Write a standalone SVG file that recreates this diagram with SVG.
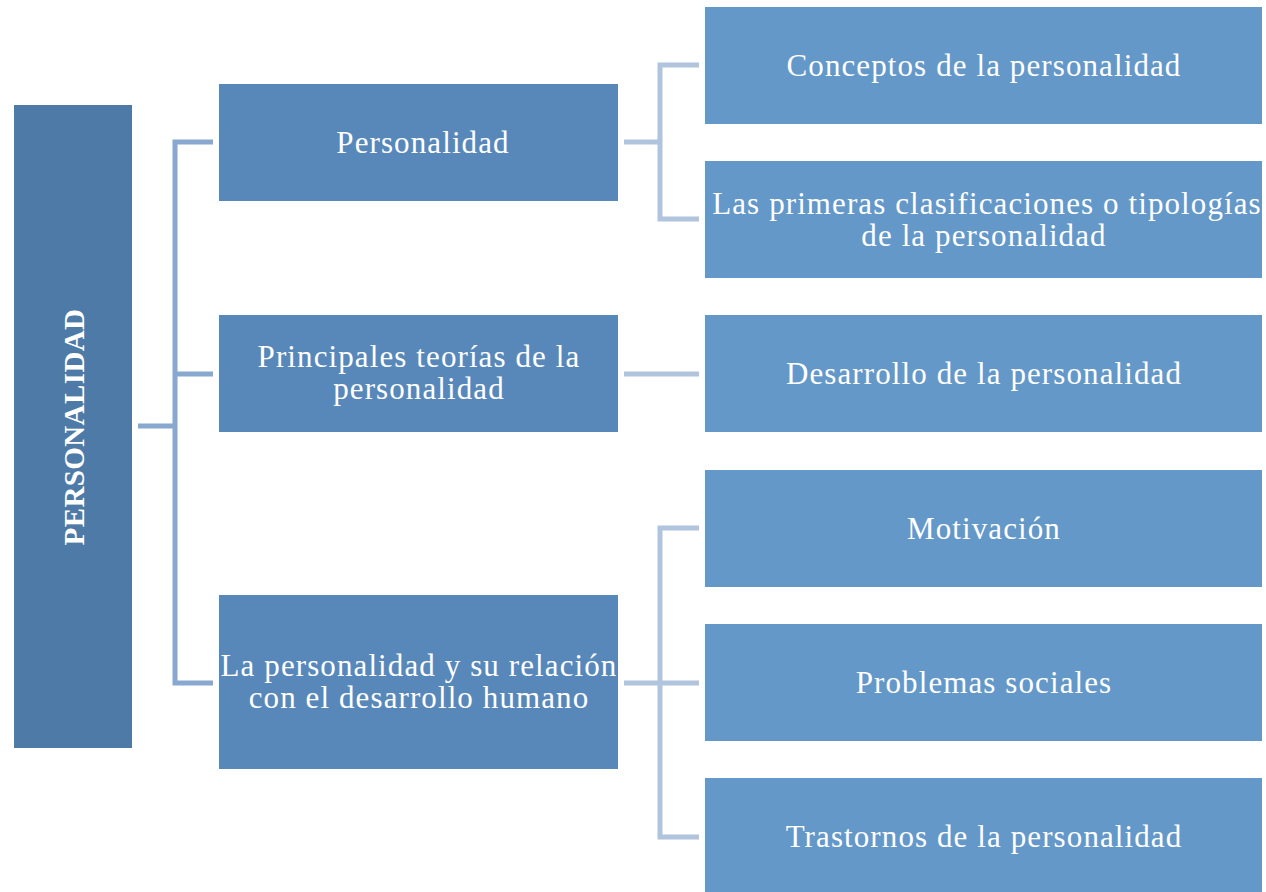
<svg xmlns="http://www.w3.org/2000/svg" width="1266" height="892" viewBox="0 0 1266 892">
<style>
.root{fill:#4e7aa7}
.l1{fill:#5888ba}
.l2{fill:#6498c9}
.t{font-family:"Liberation Serif","DejaVu Serif",serif;font-size:31px;fill:#ffffff;text-anchor:middle;letter-spacing:1.1px}
.tr{font-family:"Liberation Serif","DejaVu Serif",serif;font-size:29px;font-weight:bold;fill:#ffffff;text-anchor:middle;letter-spacing:0.4px}
.c1{fill:none;stroke:#88a8d0;stroke-width:5}
.c2{fill:none;stroke:#b0c4de;stroke-width:5}
</style>
<rect width="1266" height="892" fill="#ffffff"/>
<g id="connectors">
<path class="c1" d="M138 426H175"/>
<path class="c1" d="M213 142H175V683H213"/>
<path class="c1" d="M175 374H213"/>
<path class="c2" d="M624 142H660"/>
<path class="c2" d="M699 65H660V219H699"/>
<path class="c2" d="M624 374H699"/>
<path class="c2" d="M624 683H699"/>
<path class="c2" d="M699 528H660V837H699"/>
</g>
<g id="root">
<rect class="root" x="14" y="105" width="118" height="643"/>
<text class="tr" transform="translate(84,427) rotate(-90)">PERSONALIDAD</text>
</g>
<g id="n1">
<rect class="l1" x="219" y="84" width="399" height="117"/>
<text class="t" x="423" y="153">Personalidad</text>
</g>
<g id="n2">
<rect class="l1" x="219" y="315" width="399" height="117"/>
<text class="t" x="419" y="367">Principales teorías de la</text>
<text class="t" x="419" y="399">personalidad</text>
</g>
<g id="n3">
<rect class="l1" x="219" y="595" width="399" height="174"/>
<text class="t" x="419" y="676">La personalidad y su relación</text>
<text class="t" x="419" y="708">con el desarrollo humano</text>
</g>
<g id="n4">
<rect class="l2" x="705" y="7" width="557" height="117"/>
<text class="t" x="984" y="76">Conceptos de la personalidad</text>
</g>
<g id="n5">
<rect class="l2" x="705" y="161" width="557" height="117"/>
<text class="t" x="987" y="214">Las primeras clasificaciones o tipologías</text>
<text class="t" x="984" y="246">de la personalidad</text>
</g>
<g id="n6">
<rect class="l2" x="705" y="315" width="557" height="117"/>
<text class="t" x="984" y="384">Desarrollo de la personalidad</text>
</g>
<g id="n7">
<rect class="l2" x="705" y="470" width="557" height="117"/>
<text class="t" x="984" y="539">Motivación</text>
</g>
<g id="n8">
<rect class="l2" x="705" y="624" width="557" height="117"/>
<text class="t" x="984" y="693">Problemas sociales</text>
</g>
<g id="n9">
<rect class="l2" x="705" y="778" width="557" height="120"/>
<text class="t" x="984" y="847">Trastornos de la personalidad</text>
</g>
</svg>
